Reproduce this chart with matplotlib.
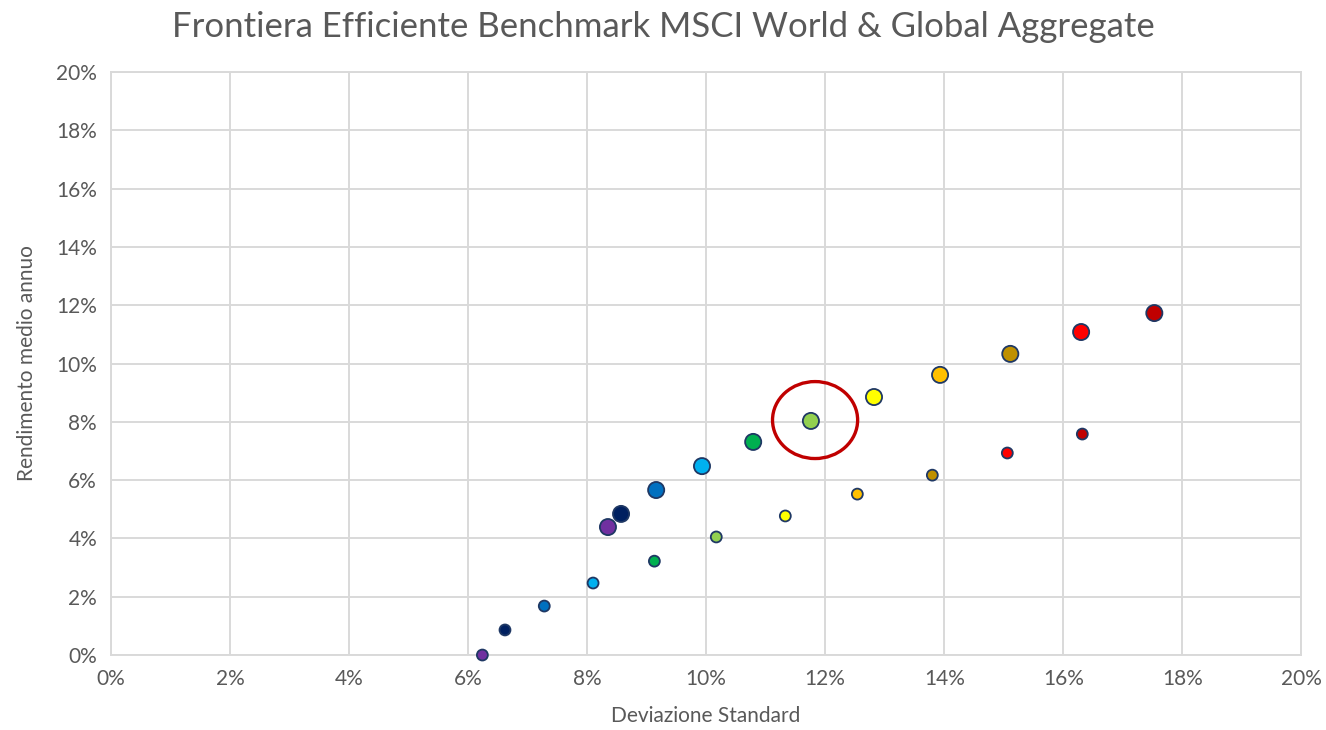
import matplotlib
matplotlib.use("Agg")
import matplotlib.pyplot as plt
from matplotlib.patches import Ellipse
from matplotlib.ticker import PercentFormatter

# frontiera superiore (marker grandi)
upper_risk = [8.35, 8.57, 9.16, 9.93, 10.79, 11.76, 12.82, 13.93, 15.11, 16.30, 17.53]
upper_ret = [4.39, 4.84, 5.66, 6.48, 7.31, 8.03, 8.85, 9.61, 10.33, 11.08, 11.73]
# frontiera inferiore (marker piccoli)
lower_risk = [6.24, 6.62, 7.28, 8.10, 9.13, 10.17, 11.33, 12.54, 13.80, 15.06, 16.32]
lower_ret = [0.0, 0.86, 1.68, 2.47, 3.22, 4.05, 4.77, 5.52, 6.17, 6.93, 7.58]
colors = ["#7030A0", "#002060", "#0070C0", "#00B0F0", "#00B050", "#92D050",
          "#FFFF00", "#FFC000", "#BF9000", "#FF0000", "#C00000"]
ticks = [0, 2, 4, 6, 8, 10, 12, 14, 16, 18, 20]

plt.rcParams["font.family"] = ["Lato", "DejaVu Sans"]
text_color = "#595959"
grid_color = "#D9D9D9"

fig = plt.figure(figsize=(13.26, 7.3), dpi=100)
ax = fig.add_axes([0.0837, 0.1027, 0.8977, 0.7987])

ax.scatter(upper_risk, upper_ret, s=135, c=colors, edgecolors="#1F3864",
           linewidths=1.3, zorder=3, clip_on=False)
ax.scatter(lower_risk, lower_ret, s=62, c=colors, edgecolors="#1F3864",
           linewidths=1.3, zorder=3, clip_on=False)

ax.add_patch(Ellipse((11.83, 8.06), 1.43, 2.64, fill=False,
                     edgecolor="#C00000", linewidth=2.4, zorder=4))

ax.set_xlim(0, 20)
ax.set_ylim(0, 20)
ax.set_xticks(ticks)
ax.set_yticks(ticks)
ax.xaxis.set_major_formatter(PercentFormatter(decimals=0))
ax.yaxis.set_major_formatter(PercentFormatter(decimals=0))
ax.tick_params(length=0, labelsize=15, labelcolor=text_color, pad=10)
ax.grid(True, color=grid_color, linewidth=1.4, zorder=0)
ax.set_axisbelow(True)
for spine in ax.spines.values():
    spine.set_color(grid_color)
    spine.set_linewidth(1.4)

ax.set_xlabel("Deviazione Standard", fontsize=15, color=text_color, labelpad=12)
ax.set_ylabel("Rendimento medio annuo", fontsize=15, color=text_color, labelpad=14)
fig.suptitle("Frontiera Efficiente Benchmark MSCI World & Global Aggregate",
             x=0.5, y=0.985, fontsize=25, color=text_color, va="top")

fig.savefig("out.png", dpi=100)
plt.close(fig)
